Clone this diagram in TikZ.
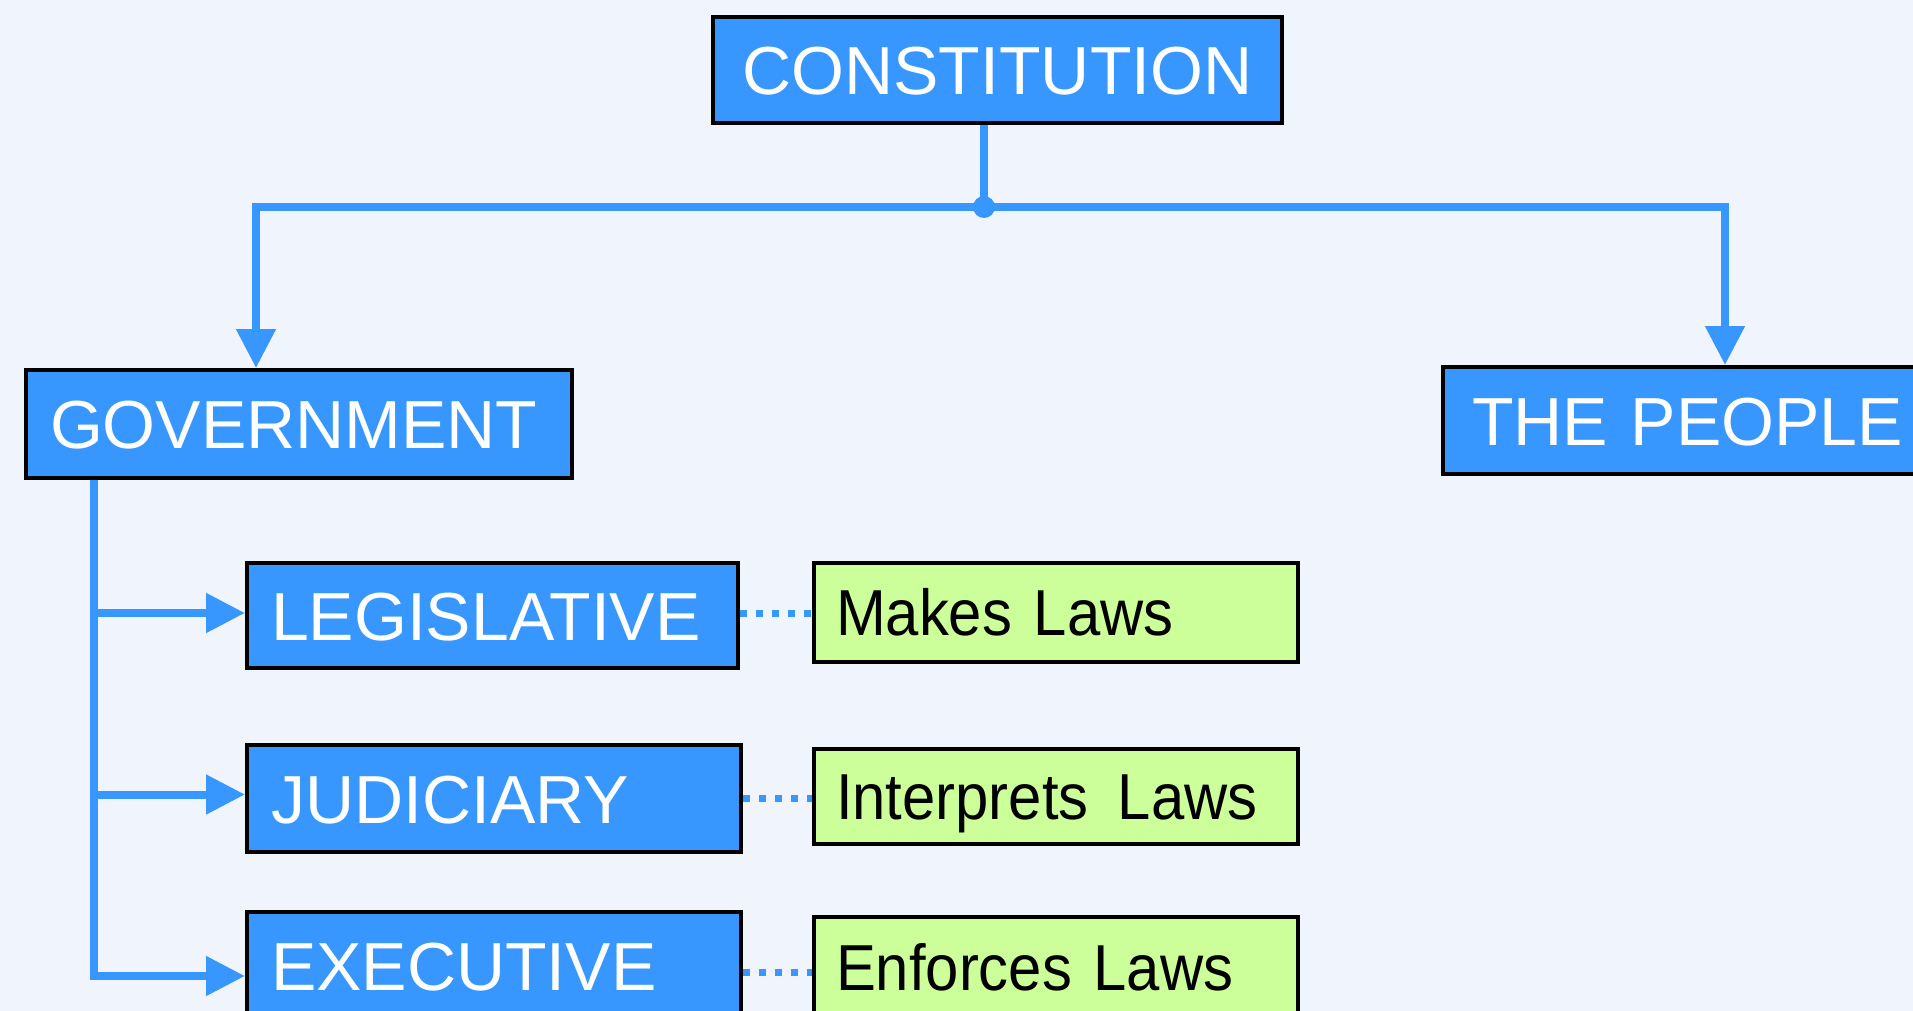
\documentclass[tikz,border=0pt]{standalone}
\usepackage{fontspec}
\setmainfont{Liberation Sans}
\newfontfamily\gfont[FakeStretch=0.92]{Liberation Sans}
\usetikzlibrary{arrows.meta}
\definecolor{cblue}{RGB}{55,151,255}
\definecolor{cgreen}{RGB}{204,255,153}
\definecolor{cbg}{RGB}{240,244,252}
\tikzset{
  bbox/.style={draw=black, line width=4pt, fill=cblue, text=white,
    font=\fontsize{68}{70}\selectfont, anchor=north west, inner xsep=24pt,
    inner ysep=0pt, align=left, text height=49pt, text depth=0pt},
  gbox/.style={draw=black, line width=4pt, fill=cgreen, text=black,
    font=\gfont\fontsize{65}{67}\selectfont, anchor=north west, inner xsep=22pt,
    inner ysep=0pt, align=left, text height=46pt, text depth=0pt},
  conn/.style={draw=cblue, line width=8pt},
  arr/.style={conn, -{Triangle[length=39pt,width=38pt]}},
  dots/.style={draw=cblue, line width=7pt, dash pattern=on 7pt off 9pt}
}
\begin{document}
\begin{tikzpicture}[x=1pt,y=-1pt]
\useasboundingbox (0,0) rectangle (1913,1011);
\clip (0,0) rectangle (1913,1011);
\fill[cbg] (0,0) rectangle (1913,1011);

\node[bbox, align=center, text width=521pt, minimum height=106pt] (cons) at (711,15) {CONSTITUTION};
\node[bbox, text width=498pt, minimum height=108pt] (gov) at (24,368) {GOVERNMENT};
\node[bbox, inner xsep=29pt, text width=432pt, minimum height=107pt] (people) at (1441,365) {THE PEOPLE};
\node[bbox, text width=443pt, minimum height=105pt] (leg) at (245,561) {LEGISLATIVE};
\node[bbox, text width=446pt, minimum height=107pt] (jud) at (245,743) {JUDICIARY};
\node[bbox, text width=446pt, minimum height=107pt] (exec) at (245,910) {EXECUTIVE};

\node[gbox, text width=440pt, minimum height=99pt] (makes) at (812,561) {Makes Laws};
\node[gbox, text width=440pt, minimum height=95pt] (interp) at (812,747) {Interprets\hspace{0.45em}Laws};
\node[gbox, text width=440pt, minimum height=100pt] (enf) at (812,915) {Enforces Laws};

\coordinate (junc) at (984,207);
\draw[conn] (junc |- cons.south) -- (junc);
\draw[arr] (junc) -| ([xshift=-43pt]gov.north);
\draw[arr] (junc) -| ([xshift=37pt]people.north);
\fill[cblue] (junc) circle (11pt);

\coordinate (trunk) at ([xshift=70pt]gov.south west);
\coordinate (legin) at ([yshift=2.5pt]leg.west);
\coordinate (judin) at ([yshift=4pt]jud.west);
\coordinate (execin) at ([yshift=-10.5pt]exec.west);
\coordinate (execout) at ([yshift=-7pt]exec.east);
\draw[arr] (trunk) |- (legin);
\draw[arr] (trunk) |- (judin);
\draw[arr] (trunk) |- (execin);

\draw[dots] (legin -| leg.east) -- (legin -| makes.west);
\draw[dots] (jud.east) -- (jud.east -| interp.west);
\draw[dots] (execout) -- (execout -| enf.west);
\end{tikzpicture}
\end{document}
